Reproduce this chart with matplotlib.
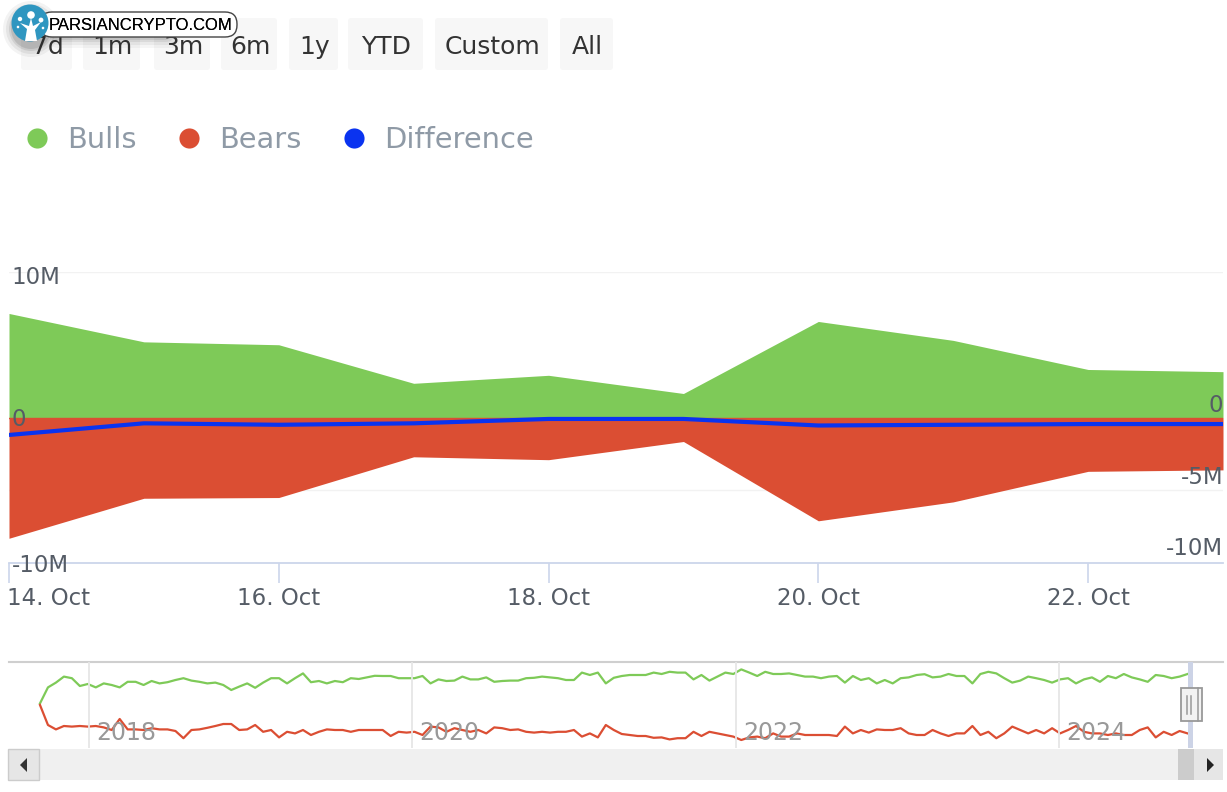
import pandas as pd
import matplotlib
matplotlib.use("Agg")
import matplotlib.pyplot as plt
from matplotlib.lines import Line2D
from matplotlib.patches import Rectangle, FancyBboxPatch, Ellipse, Polygon
from matplotlib.transforms import ScaledTranslation

days = pd.date_range("2024-10-14", "2024-10-23", freq="D")
bulls = [7.15, 5.2, 5.0, 2.35, 2.9, 1.65, 6.6, 5.3, 3.3, 3.15]
bears = [-8.3, -5.55, -5.5, -2.7, -2.9, -1.65, -7.1, -5.8, -3.7, -3.6]
difference = [-1.2, -0.4, -0.5, -0.4, -0.1, -0.1, -0.55, -0.5, -0.45, -0.45]

nav_bulls = [-0.1, 3.9, 5.1, 6.6, 6.2, 4.25, 4.75, 3.9, 4.9, 4.5, 3.9, 5.3, 5.3, 4.5, 5.5, 4.9, 5.2, 5.75, 6.2, 5.6,
             5.3, 4.9, 5.1, 4.5, 3.25, 4.1, 4.9, 3.8, 5.1, 6.2, 6.2, 4.9, 6.2, 7.4, 5.2, 5.5, 4.9, 5.5, 5.2, 6.2,
             6.0, 6.4, 6.8, 6.75, 6.75, 6.2, 6.2, 6.2,
             6.75, 4.9, 5.9, 5.5, 5.6, 6.6, 5.9, 5.9, 6.4, 5.3, 5.5, 5.6, 5.6, 6.2, 6.3, 6.6, 6.4, 6.2, 5.75, 5.75,
             7.6, 7.0, 7.6, 4.9, 6.3, 6.75, 7.0, 7.0, 7.0, 7.6, 7.25, 7.8, 7.6, 7.6, 5.9, 7.0, 5.6, 6.6, 7.6, 7.25,
             8.4, 7.6, 6.75, 7.8, 7.25, 7.25, 7.4, 7.0, 6.6, 6.6, 6.2,
             6.6, 6.75, 5.1, 6.75, 5.75, 6.2, 4.9, 5.75, 4.9, 6.2, 6.4, 7.0, 7.2, 6.4, 6.6, 7.25, 6.75, 6.75, 4.9, 7.25,
             7.8, 7.4, 6.2, 5.1, 5.6, 6.6, 6.2, 5.75, 5.1, 5.9, 6.2, 4.9, 5.9, 6.4, 5.3, 6.75, 6.2, 7.25, 6.4, 5.9,
             5.3, 7.0, 6.75, 6.2, 6.6, 7.25]
nav_bears = [-0.5, -5.5, -6.6, -5.75, -5.9, -5.75, -5.9, -5.75, -6.1, -6.75, -4.0, -6.6, -6.6, -6.75, -6.3, -6.6, -6.6, -7.0, -8.8, -6.75,
             -6.6, -6.2, -5.75, -5.25, -5.25, -6.75, -6.6, -5.5, -7.2, -6.75, -8.6, -7.2, -7.6, -6.75, -8.0, -7.2, -6.6, -6.75, -6.75, -7.2,
             -6.75, -6.75, -6.75, -6.75, -8.25, -7.2, -7.4, -7.2,
             -8.0, -5.9, -6.1, -7.2, -6.3, -6.75, -7.2, -6.75, -7.6, -6.1, -6.3, -6.75, -6.6, -7.2, -7.4, -7.2, -7.4, -7.2, -7.2, -6.75,
             -8.4, -7.6, -8.6, -5.5, -6.75, -7.75, -8.0, -8.25, -8.25, -8.7, -8.6, -9.1, -8.8, -8.8, -7.2, -8.25, -7.2, -7.6, -8.0, -8.4,
             -9.25, -8.6, -8.4, -8.8, -7.6, -8.4, -8.4, -7.6, -8.0, -8.0, -8.0,
             -8.0, -8.25, -5.9, -7.6, -6.75, -7.4, -6.6, -6.75, -6.75, -6.3, -7.6, -8.0, -8.0, -6.75, -7.6, -8.25, -7.6, -7.6, -5.75, -8.0,
             -7.2, -8.8, -7.6, -5.9, -6.75, -7.6, -6.75, -7.6, -6.3, -7.6, -6.75, -5.75, -7.2, -7.6, -7.6, -8.0, -7.6, -8.0, -8.0, -6.75,
             -6.1, -8.6, -7.2, -8.0, -7.0, -7.6]
nav_dates = pd.date_range("2017-09-12", periods=len(nav_bulls), freq="18D")

buttons = ["7d", "1m", "3m", "6m", "1y", "YTD", "Custom", "All"]
nav_years = [2018, 2020, 2022, 2024]
left_ticks = [10, 0, -10]
right_ticks = [0, -5, -10]

GREEN, RED, BLUE = "#7eca58", "#db4e33", "#0a33f0"
W, H = 1227, 792
plt.rcParams["font.family"] = "DejaVu Sans"
plt.rcParams["path.simplify"] = False


def box(x0, y0, x1, y1):
    return [x0 / W, 1 - y1 / H, (x1 - x0) / W, (y1 - y0) / H]


def fmt(v, _=None):
    return "0" if v == 0 else f"{v:.0f}M"


fig = plt.figure(figsize=(W / 100, H / 100), dpi=100, facecolor="white")

# Main chart
ax = fig.add_axes(box(9, 272, 1223, 563), zorder=2)
ax.patch.set_alpha(0)
ax.fill_between(days, 0, bulls, color=GREEN, lw=0, zorder=2)
ax.fill_between(days, 0, bears, color=RED, lw=0, zorder=2)
ax.axhline(0, color=RED, lw=1.0, zorder=3)
ax.plot(days, difference, color=BLUE, lw=3.0, zorder=4, solid_capstyle="butt")
ax.set_xlim(days[0], days[-1])
ax.set_ylim(-10, 10)
for s in ["top", "left", "right"]:
    ax.spines[s].set_visible(False)
ax.spines["bottom"].set_color("#ccd6eb")
ax.spines["bottom"].set_linewidth(1.3)
ax.set_yticks(left_ticks)
ax.yaxis.set_major_formatter(fmt)
ax.yaxis.set_zorder(5)
ax.tick_params(axis="y", length=0, pad=-2, labelsize=16.5, labelcolor="#555c66")
left_shift = {10: -3, 0: 0, -10: 0}
for v, t in zip(left_ticks, ax.get_yticklabels()):
    t.set_ha("left")
    t.set_transform(t.get_transform() + ScaledTranslation(0, left_shift[v] / 100, fig.dpi_scale_trans))
ax.axhline(10, color="#f2f2f2", lw=1, zorder=1)
ax.axhline(-5, color="#f2f2f2", lw=1, zorder=1)
tick_days = days[::2][:5]
ax.set_xticks(tick_days)
ax.set_xticklabels([f"{d.day}. {d:%b}" for d in tick_days])
ax.tick_params(axis="x", length=14.5, width=1.2, color="#ccd6eb", pad=3,
               labelsize=16.5, labelcolor="#555c66")
first = ax.get_xticklabels()[0]
first.set_ha("left")
first.set_transform(first.get_transform() + ScaledTranslation(-2 / 100, 0, fig.dpi_scale_trans))

# Right-hand labels sit above their values
axr = ax.twinx()
axr.set_zorder(3)
axr.set_ylim(-10, 10)
for s in axr.spines.values():
    s.set_visible(False)
axr.set_yticks(right_ticks)
axr.yaxis.set_major_formatter(fmt)
axr.tick_params(axis="y", length=0, pad=0, labelsize=16.5, labelcolor="#555c66")
right_shift = {0: 15, -5: 15, -10: 17}
for v, t in zip(right_ticks, axr.get_yticklabels()):
    t.set_ha("right")
    t.set_transform(t.get_transform() + ScaledTranslation(0, right_shift[v] / 100, fig.dpi_scale_trans))

# Navigator
nav = fig.add_axes(box(9, 662, 1223, 748), zorder=1)
nav.plot(nav_dates, nav_bulls, color=GREEN, lw=1.6, zorder=3)
nav.plot(nav_dates, nav_bears, color=RED, lw=1.6, zorder=3)
nav.set_xlim(pd.Timestamp("2017-07-04"), pd.Timestamp("2025-01-05"))
nav.set_ylim(-11.25, 10.25)
for s in ["left", "right", "bottom"]:
    nav.spines[s].set_visible(False)
nav.spines["top"].set_color("#cfcfcf")
nav.spines["top"].set_linewidth(1.5)
year_dates = [pd.Timestamp(f"{y}-01-01") for y in nav_years]
nav.set_xticks(year_dates)
nav.set_xticklabels([str(y) for y in nav_years])
nav.xaxis.grid(True, color="#e6e6e6", lw=1.3)
nav.set_axisbelow(True)
nav.xaxis.set_zorder(5)
nav.set_yticks([])
nav.tick_params(axis="x", length=0, direction="in", pad=-27, labelsize=17, labelcolor="#999999")
for t in nav.get_xticklabels():
    t.set_ha("left")
    t.set_transform(t.get_transform() + ScaledTranslation(7 / 100, 10 / -100, fig.dpi_scale_trans))

# Page furniture in pixel coordinates
ui = fig.add_axes([0, 0, 1, 1], zorder=10)
ui.set_xlim(0, W)
ui.set_ylim(H, 0)
ui.axis("off")
ui.patch.set_alpha(0)

spans = [(21, 72), (83, 140), (154, 210), (221, 277), (289, 338), (348, 423), (435, 548), (560, 613)]
for label, (a, b) in zip(buttons, spans):
    ui.add_patch(FancyBboxPatch((a + 3, 21), b - a - 6, 46, boxstyle="round,pad=3",
                                fc="#f7f7f7", ec="none", zorder=1))
    ui.text((a + b) / 2 + 1, 47, label, ha="center", va="center", fontsize=18, color="#333333", zorder=2)

handles = [Line2D([], [], marker="o", ls="none", ms=14.5, color=c, mew=0) for c in (GREEN, RED, BLUE)]
leg = fig.legend(handles, ["Bulls", "Bears", "Difference"], ncol=3, frameon=False,
                 loc="center left", bbox_to_anchor=(11 / W, 1 - 140 / H), borderaxespad=0,
                 fontsize=20.8, labelcolor="#8f9aa6", handlelength=1.0, handletextpad=0.55,
                 columnspacing=1.3)

# Navigator handle and scrollbar
ui.add_patch(Rectangle((1188, 662), 5, 86, fc="#ccd3e6", ec="none", zorder=3))
ui.add_patch(Rectangle((1181, 688), 21, 33, fc="#f2f2f2", ec="#999999", lw=1.3, zorder=4))
for x in (1187, 1191):
    ui.plot([x, x], [696, 714], color="#999999", lw=1.1, zorder=5)
ui.plot([1198, 1198], [688, 721], color="#999999", lw=1.1, zorder=5)
ui.add_patch(Rectangle((8, 749), 1215, 31, fc="#f0f0f0", ec="none", zorder=1))
ui.add_patch(Rectangle((1178, 749), 16, 31, fc="#cccccc", ec="none", zorder=2))
ui.add_patch(Rectangle((8, 749), 31, 31, fc="#e6e6e6", ec="#cccccc", lw=1, zorder=2))
ui.add_patch(Rectangle((1194, 749), 29, 31, fc="#e6e6e6", ec="none", zorder=2))
ui.add_patch(Polygon([[27, 758], [27, 772], [20, 765]], fc="#333333", zorder=3))
ui.add_patch(Polygon([[1207, 758], [1207, 772], [1214, 765]], fc="#222222", zorder=3))

# Watermark badge
for grow, alpha in [(10, 0.05), (7, 0.07), (4, 0.10), (2, 0.12)]:
    ui.add_patch(Ellipse((31, 29), 36 + 2 * grow, 36 + 2 * grow, fc="#222222", ec="none", alpha=alpha, zorder=6))
    ui.add_patch(FancyBboxPatch((50, 18), 120 + grow, 20 + grow, boxstyle="round,pad=0,rounding_size=8",
                                fc="#222222", ec="none", alpha=alpha * 0.8, zorder=6))
ui.add_patch(FancyBboxPatch((40, 12), 197, 25, boxstyle="round,pad=0,rounding_size=12",
                            fc="white", ec="#444444", lw=1, zorder=7))
ui.text(140.5, 25.5, "PARSIANCRYPTO.COM", ha="center", va="center", fontsize=12,
        family="Liberation Sans", color="black", zorder=9)
ui.text(141, 25.5, "PARSIANCRYPTO.COM", ha="center", va="center", fontsize=12,
        family="Liberation Sans", color="black", zorder=9)
ui.add_patch(Ellipse((30, 23), 37, 37, fc="#2f96c0", ec="none", zorder=8))
ui.add_patch(Polygon([[25, 41], [27, 29], [20, 23], [29, 26], [31, 18], [33, 26], [41, 22], [35, 30], [37, 41]],
                     fc="white", ec="none", zorder=9))
for cx, cy, r in [(31, 15, 3.8), (20, 19, 2.2), (41, 20, 2.4), (18, 27, 1.3), (43, 28, 1.3)]:
    ui.add_patch(Ellipse((cx, cy), 2 * r, 2 * r, fc="white", ec="none", zorder=9))

fig.savefig("out.png", dpi=100)
